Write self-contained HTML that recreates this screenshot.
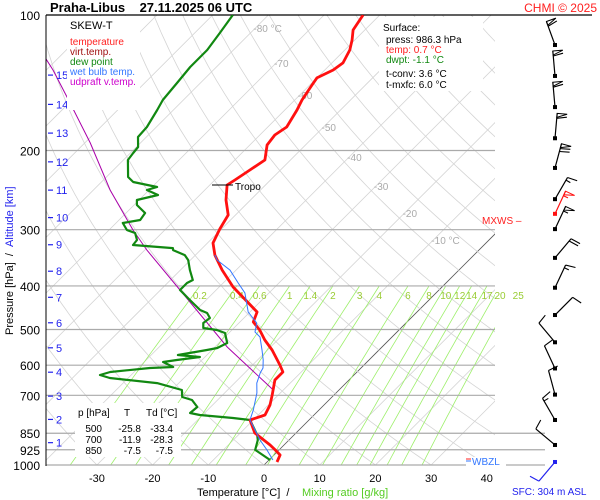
<!DOCTYPE html>
<html><head><meta charset="utf-8"><title>Skew-T Praha-Libus</title>
<style>
html,body{margin:0;padding:0;background:#fff;}
svg{display:block;font-family:"Liberation Sans",sans-serif;}
</style></head>
<body>
<svg id="chart" width="600" height="500" viewBox="0 0 600 500" xmlns="http://www.w3.org/2000/svg">
<defs><clipPath id="plotclip"><rect x="46" y="15" width="449" height="450"/></clipPath></defs>
<rect x="0" y="0" width="600" height="500" fill="#fff"/>
<g id="grid" clip-path="url(#plotclip)"></g>
<g id="gridlabels"></g>
<g id="plines"></g>
<g id="series" clip-path="url(#plotclip)"></g>
<g id="axes"></g>
<g id="winds"></g>
<g id="labels">
<text x="50" y="12" font-size="13" font-weight="bold">Praha-Libus&#160;&#160;&#160;&#160;27.11.2025 06 UTC</text>
<text x="597" y="12" font-size="12" fill="#ff2020" text-anchor="end">CHMI © 2025</text>
<g>
<rect x="67" y="16" width="73" height="94" fill="#fff"/>
<text x="70" y="29" font-size="11">SKEW-T</text>
<text x="70" y="45" font-size="10" fill="#ff2020">temperature</text>
<text x="70" y="55" font-size="10" fill="#a01010">virt.temp.</text>
<text x="70" y="65" font-size="10" fill="#118811">dew point</text>
<text x="70" y="75" font-size="10" fill="#3377ff">wet bulb temp.</text>
<text x="70" y="85" font-size="10" fill="#cc00cc">udpraft v.temp.</text>
</g>
<g>
<rect x="379" y="17" width="104" height="74" fill="#fff"/>
<text x="383" y="31" font-size="10">Surface:</text>
<text x="386" y="43" font-size="10">press: 986.3 hPa</text>
<text x="386" y="53" font-size="10" fill="#ff2020">temp: 0.7 °C</text>
<text x="386" y="63" font-size="10" fill="#118811">dwpt: -1.1 °C</text>
<text x="386" y="77" font-size="10">t-conv: 3.6 °C</text>
<text x="386" y="88" font-size="10">t-mxfc: 6.0 °C</text>
</g>
<g>
<rect x="75" y="403" width="106" height="54" fill="#fff"/>
<text x="78" y="416" font-size="10">p [hPa]</text>
<text x="124" y="416" font-size="10">T</text>
<text x="146" y="416" font-size="10">Td [°C]</text>
<g font-size="10" text-anchor="end">
<text x="102" y="432">500</text><text x="141" y="432">-25.8</text><text x="173" y="432">-33.4</text>
<text x="102" y="443">700</text><text x="141" y="443">-11.9</text><text x="173" y="443">-28.3</text>
<text x="102" y="454">850</text><text x="141" y="454">-7.5</text><text x="173" y="454">-7.5</text>
</g>
</g>
<text x="235" y="190" font-size="10">Tropo</text>
<line x1="212" y1="185" x2="233" y2="185" stroke="#000" stroke-width="1"/>
<text x="482" y="224" font-size="10" fill="#ff2020">MXWS –</text>
<g>
<rect x="466" y="457" width="40" height="12" fill="#fff"/>
<line x1="466" y1="459" x2="471" y2="459" stroke="#ff2020"/>
<line x1="466" y1="461" x2="471" y2="461" stroke="#3377ff"/>
<text x="472" y="465" font-size="10" fill="#3377ff">WBZL</text>
</g>
<text x="512" y="495" font-size="10" fill="#2222ee">SFC: 304 m ASL</text>
<text x="197" y="496" font-size="11">Temperature [°C]&#160;&#160;/</text>
<text x="302" y="496" font-size="11" fill="#55cc22">Mixing ratio [g/kg]</text>
<text transform="translate(13,335) rotate(-90)" font-size="11"><tspan>Pressure [hPa]&#160;&#160;/&#160;&#160;</tspan><tspan fill="#2222ee">Altitude [km]</tspan></text>
</g>
</svg>
<script>
// ---- data arrays ----
var tempP = [984.7,950.1,925.6,902.6,848.9,794.3,774.3,735.6,698.9,647.4,621.4,599.5,555.2,527.4,501.2,481.1,457.1,402.3,368.8,341.6,321.2,298.9,278.3,257.7,238.6,232.6,221,210,194.5,184.8,177.4,162.6,154.5,143.1,138,132.5,127.8,119.6,113.6,108,100];
var tempT = [1.8,1.1,-0.7,-2.5,-7.4,-10.6,-8.8,-9.7,-11.1,-13.3,-13.3,-15.1,-19.2,-22.3,-25.0,-27.6,-28.7,-37.5,-42.5,-46.5,-49.0,-50.3,-51.3,-54.4,-56.9,-56.4,-55.5,-54.6,-56.9,-57.3,-56.6,-57.8,-58.7,-59.6,-60.0,-58.5,-58.0,-59.1,-60.5,-62.1,-63.0];
var dewP = [974.7,925.6,879.9,857.7,794.3,786.3,774.3,766.3,743.1,717,706.1,681.3,657.5,640.8,631,621.4,608.8,605.7,590.4,584.4,575.4,569.6,555.2,549.5,535.7,508.9,501.2,496.1,483.5,471.3,459.4,452.4,430,408.5,394.1,388.1,368.8,350.4,341.6,333,329.6,324.5,316.2,305.1,300.5,289.9,285.5,275.4,264.4,257.7,251.2,244.8,241.1,235,229.1,210,202.6,196.5,186.7,177.4,162.6,154.5,141.6,130.5,119.6,109.6,100];
var dewT = [0.2,-4.3,-5.6,-6.6,-10.6,-14.0,-20.5,-22.6,-22.4,-24.6,-26.9,-28.2,-33.9,-43.3,-45.6,-44.3,-37.9,-33.9,-36.6,-34.5,-30.9,-35.2,-30.9,-29.4,-28.5,-30.7,-32.7,-35.5,-36.4,-36.1,-37.5,-39.3,-42.9,-46.5,-46.5,-46.0,-48.3,-50.4,-51.9,-54.9,-55.3,-63.0,-63.2,-64.8,-66.8,-68.8,-66.2,-66.6,-69.5,-70.4,-67.5,-70.4,-69.1,-74.3,-76.1,-79.2,-79.5,-79.7,-81.5,-81.7,-82.9,-83.7,-84.2,-84.7,-84.7,-85.5,-86.4];
var wetP = [974.7,925.6,879.9,794.3,754.7,691.8,657.5,624.6,608.8,584.4,555.2,519.5,506.3,483.5,469,457.1,414.8,394.1,368.8,350.4,341.6];
var wetT = [0.7,-2.2,-5.2,-10.6,-11.8,-14.2,-16.0,-17.2,-17.6,-19.0,-21.0,-23.7,-25.5,-26.8,-28.7,-30.3,-34.3,-37.3,-41.1,-45.2,-46.5];
var parcelP = [681.3,546.7,408.5,333,300.5,244.8,192.5,156.9,132.5,124];
var parcelT = [-11.8,-27.8,-46.5,-59.6,-65.7,-77.0,-89.0,-99.8,-108.8,-112.6];
var pressureTicks = [100,200,300,400,500,600,700,850,925,1000];
var tempTicks = [-30,-20,-10,0,10,20,30,40];
var isothermLabels = [-80,-70,-60,-50,-40,-30,-20,-10];
var mixRatios = [0.2,0.4,0.6,1,1.4,2,3,4,6,8,10,12,14,17,20,25];
var altKm = [1,2,3,4,5,6,7,8,9,10,11,12,13,14,15];
var altP = [892,792,703,622,549,483,424,371,324,282,245,212,183,158,136];
var windP = [116.6,136.6,160.2,187.9,218.7,256.6,299.1,346.5,403.7,464.2,533.7,610.2,697.6,794.3,902.6,984.7];
var windDir = [340,355,355,5,15,30,25,40,25,45,320,335,345,330,310,220];
var windSpd = [60,60,60,60,70,15,55,20,15,10,10,10,10,15,10,10];

// ---- axis functions ----
function yP(p){return 15+450*Math.log10(p/100);}
function xT(T,p){return 264+5.57*T+(465-yP(p));}
var NS="http://www.w3.org/2000/svg";
function mk(tag,attrs,parent){var e=document.createElementNS(NS,tag);for(var k in attrs)e.setAttribute(k,attrs[k]);parent.appendChild(e);return e;}
var grid=document.getElementById('grid'),gridlabels=document.getElementById('gridlabels'),plines=document.getElementById('plines'),series=document.getElementById('series'),axes=document.getElementById('axes'),winds=document.getElementById('winds');

for(var T=-160;T<=50;T+=10){
  var l=mk('line',{x1:xT(T,1000),y1:yP(1000),x2:xT(T,100),y2:yP(100),stroke:T===0?'#555':'#d4d4d4','stroke-width':0.8},grid);
  
  
}
for(var th=-40;th<=220;th+=10){
  var d='';
  for(var p=1000;p>=100;p-=10){var t=(th+273.15)*Math.pow(p/1000,0.2857)-273.15;d+=(d?'L':'M')+xT(t,p).toFixed(1)+','+yP(p).toFixed(1);}
  var a=mk('path',{d:d,fill:'none',stroke:'#d4d4d4','stroke-width':0.8},grid);
  
  
}
function tdFromW(w,p){var e=w*p/(622+w);var l=Math.log(e/6.112);return 243.5*l/(17.67-l);}
mixRatios.forEach(function(w){
  var d='';
  for(var p=1000;p>=400;p-=20){d+=(d?'L':'M')+xT(tdFromW(w,p),p).toFixed(1)+','+yP(p).toFixed(1);}
  var m=mk('path',{d:d,fill:'none',stroke:'#9def6a','stroke-width':0.8},grid);
  
  
  var tx=mk('text',{x:xT(tdFromW(w,400),400),y:299,'font-size':10,fill:'#99cc33','text-anchor':'middle'},gridlabels);
  tx.textContent=String(w);
  
  
});
var isoY=[28,63,95,127,157,186,213,240];
isothermLabels.forEach(function(T,i){
  var y=isoY[i];
  var p=100*Math.pow(10,(y-15)/450);
  var tx=mk('text',{x:xT(T,p)-2,y:y+4,'font-size':10,fill:'#aaaaaa'},gridlabels);
  tx.textContent=(T===-80||T===-10)?T+' °C':String(T);
  
  
});
pressureTicks.forEach(function(p){
  var y=yP(p),right=(p>=850)?545:495;
  if(p===100){right=592;}
  var l=mk('line',{x1:46,y1:y,x2:right,y2:y,stroke:p===100?'#000':'#aaaaaa','stroke-width':1.2},plines);
  
  
  var tx=mk('text',{x:40,y:y+5,'font-size':12,'text-anchor':'end'},axes);
  tx.textContent=String(p);
  
  
});
var ax=mk('line',{x1:46,y1:15,x2:46,y2:466,stroke:'#000','stroke-width':1},axes);


tempTicks.forEach(function(T){
  var tx=mk('text',{x:xT(T,1000),y:482,'font-size':11,'text-anchor':'middle'},axes);
  tx.textContent=String(T);
  
  
});
altKm.forEach(function(k,i){
  var y=yP(altP[i]);
  var l=mk('line',{x1:48,y1:y,x2:53,y2:y,stroke:'#2222ee','stroke-width':1.2},axes);
  
  
  var tx=mk('text',{x:56,y:y+4,'font-size':11,fill:'#2222ee'},axes);
  tx.textContent=String(k);
  
  
});
function pathOf(P,T){var d='';for(var i=0;i<P.length;i++){d+=(i?'L':'M')+xT(T[i],P[i]).toFixed(1)+','+yP(P[i]).toFixed(1);}return d;}
var pc=mk('path',{d:pathOf(parcelP,parcelT),fill:'none',stroke:'#aa00aa','stroke-width':1},series);


var dw=mk('path',{d:pathOf(dewP,dewT),fill:'none',stroke:'#118811','stroke-width':2.2,'stroke-linejoin':'round'},series);


var tl=mk('path',{d:pathOf(tempP,tempT),fill:'none',stroke:'#ff1010','stroke-width':2.8,'stroke-linejoin':'round'},series);


var wb=mk('path',{d:pathOf(wetP,wetT),fill:'none',stroke:'#3377ff','stroke-width':1},series);


function barb(p,dirDeg,spd,col,parent,name){
  var x0=555,y0=yP(p),dir=dirDeg*Math.PI/180,L=25;
  var ux=Math.sin(dir),uy=-Math.cos(dir);
  var x1=x0+ux*L,y1=y0+uy*L;
  var g=mk('g',{},parent);
  
  
  mk('line',{x1:x0,y1:y0,x2:x1,y2:y1,stroke:col,'stroke-width':1.2},g);
  mk('rect',{x:x0-2,y:y0-2,width:4,height:4,fill:col},g);
  var s=spd,pos=0,px=-uy,py=ux;
  while(s>=50){var bx=x1-ux*pos,by=y1-uy*pos;mk('polygon',{points:bx+','+by+' '+(bx+px*10)+','+(by+py*10)+' '+(bx-ux*4)+','+(by-uy*4),fill:'none',stroke:col,'stroke-width':1},g);pos+=5;s-=50;}
  while(s>=10){var bx2=x1-ux*pos,by2=y1-uy*pos;mk('line',{x1:bx2,y1:by2,x2:bx2+px*10+ux*2,y2:by2+py*10+uy*2,stroke:col,'stroke-width':1.1},g);pos+=3;s-=10;}
  if(s>=5){var bx3=x1-ux*pos,by3=y1-uy*pos;mk('line',{x1:bx3,y1:by3,x2:bx3+px*5,y2:by3+py*5,stroke:col,'stroke-width':1.1},g);}
}
windP.forEach(function(p,i){
  barb(p,windDir[i],windSpd[i],(i===windP.length-1)?'#2222ee':'#000',winds,'wind-barb');
});
barb(276.6,25,55,'#ff1010',winds,'max-wind-barb');
</script>
</body></html>
